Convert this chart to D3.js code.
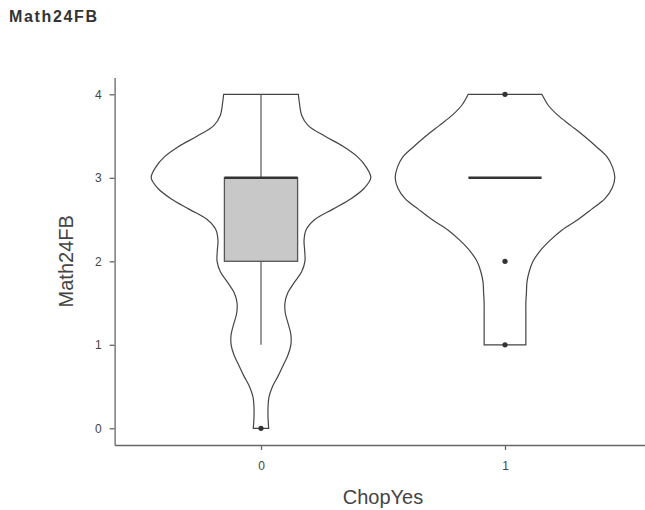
<!DOCTYPE html>
<html>
<head>
<meta charset="utf-8">
<script src="https://cdn.jsdelivr.net/npm/d3@7"></script>
<style>
  body { margin: 0; background: #fff; }
  svg { display: block; font-family: "Liberation Sans", Arial, sans-serif; }
</style>
</head>
<body>
<svg id="chart" width="645" height="510"></svg>
<script>
// ---------- data ----------
const groups = ["0", "1"];
const yTicks = [0, 1, 2, 3, 4];

// relative violin density (max = 1), sampled every 0.125 from the lowest value up to 4
const violinStep = 0.125;
const violin0Start = 0;
const violin0 = [0.07, 0.064, 0.064, 0.073, 0.105, 0.155, 0.20, 0.245, 0.272, 0.272, 0.248, 0.222, 0.218,
                 0.245, 0.305, 0.37, 0.40, 0.398, 0.392, 0.41, 0.49, 0.655, 0.82, 0.94, 1.0, 0.96, 0.88,
                 0.75, 0.58, 0.43, 0.37, 0.352, 0.34];
const violin1Start = 1;
const violin1 = [0.19, 0.19, 0.19, 0.19, 0.19, 0.195, 0.20, 0.22, 0.255, 0.32, 0.41, 0.52, 0.665, 0.79,
                 0.91, 0.975, 1.0, 0.98, 0.93, 0.83, 0.72, 0.60, 0.48, 0.39, 0.335];

// box stats: [lower whisker, q1, median, q3, upper whisker]
const box0 = [1, 2, 3, 3, 4];
const box1 = [3, 3, 3, 3, 3];
const outliers0 = [0];
const outliers1 = [1, 2, 4];

const series = [
  { group: "0", start: violin0Start, dens: violin0, box: box0, out: outliers0 },
  { group: "1", start: violin1Start, dens: violin1, box: box1, out: outliers1 }
];

// ---------- layout ----------
const svg = d3.select("#chart");
const panel = { left: 114.6, right: 651.4, top: 77.6, bottom: 445 };

const x = d3.scalePoint().domain(groups).range([panel.left, panel.right]).padding(0.6);
const y = d3.scaleLinear().domain([-0.2, 4.2]).range([panel.bottom, panel.top]);
const step = x.step();
const w = d3.scaleLinear().domain([0, 1]).range([0, 0.45 * step]);
const boxHalf = 0.15 * step;

// title
svg.append("text")
  .attr("x", 9).attr("y", 21.7)
  .attr("font-size", 16).attr("font-weight", "bold")
  .attr("fill", "#333")
  .attr("textLength", 88).attr("lengthAdjust", "spacing")
  .text("Math24FB");

// axes
const axisColor = "#666";
const yAxis = svg.append("g")
  .attr("transform", `translate(${panel.left},0)`)
  .call(d3.axisLeft(y).tickValues(yTicks).tickFormat(d3.format("d"))
    .tickSize(5).tickSizeOuter(0).tickPadding(8));
const xAxis = svg.append("g")
  .attr("transform", `translate(0,${panel.bottom})`)
  .call(d3.axisBottom(x).tickSize(5).tickSizeOuter(0).tickPadding(11));
[yAxis, xAxis].forEach(g => {
  g.select(".domain").attr("stroke", axisColor).attr("stroke-width", 1.3);
  g.selectAll(".tick line").attr("stroke", axisColor).attr("stroke-width", 1.3);
  g.selectAll(".tick text").attr("fill", "#444").attr("font-size", 12)
    .attr("font-family", "\"Liberation Sans\", Arial, sans-serif");
});

// axis titles
svg.append("text")
  .attr("x", (panel.left + panel.right) / 2).attr("y", 504)
  .attr("text-anchor", "middle").attr("font-size", 20).attr("fill", "#444")
  .text("ChopYes");
svg.append("text")
  .attr("transform", `translate(72.5,${(panel.top + panel.bottom) / 2}) rotate(-90)`)
  .attr("text-anchor", "middle").attr("font-size", 20).attr("fill", "#444")
  .text("Math24FB");

// violins + boxes
series.forEach(s => {
  const cx = x(s.group);
  const pts = s.dens.map((d, i) => ({ v: s.start + i * violinStep, d }));
  const area = d3.area()
    .y(p => y(p.v))
    .x0(p => cx - w(p.d))
    .x1(p => cx + w(p.d))
    .curve(d3.curveCatmullRom);
  svg.append("path")
    .attr("d", area(pts))
    .attr("fill", "none")
    .attr("stroke", "#444")
    .attr("stroke-width", 1.2);

  const [lo, q1, med, q3, hi] = s.box;
  // whiskers
  svg.append("line")
    .attr("x1", cx).attr("x2", cx).attr("y1", y(hi)).attr("y2", y(q3))
    .attr("stroke", "#555").attr("stroke-width", 1.2);
  svg.append("line")
    .attr("x1", cx).attr("x2", cx).attr("y1", y(q1)).attr("y2", y(lo))
    .attr("stroke", "#555").attr("stroke-width", 1.2);
  // box
  if (q3 > q1) {
    svg.append("rect")
      .attr("x", cx - boxHalf).attr("width", 2 * boxHalf)
      .attr("y", y(q3)).attr("height", y(q1) - y(q3))
      .attr("fill", "#c8c8c8").attr("stroke", "#555").attr("stroke-width", 1.3);
  }
  // median
  svg.append("line")
    .attr("x1", cx - boxHalf).attr("x2", cx + boxHalf)
    .attr("y1", y(med)).attr("y2", y(med))
    .attr("stroke", "#333").attr("stroke-width", 2.6);
  // outliers
  svg.selectAll(null).data(s.out).join("circle")
    .attr("cx", cx).attr("cy", d => y(d)).attr("r", 2.6)
    .attr("fill", "#333");
});
</script>
</body>
</html>
